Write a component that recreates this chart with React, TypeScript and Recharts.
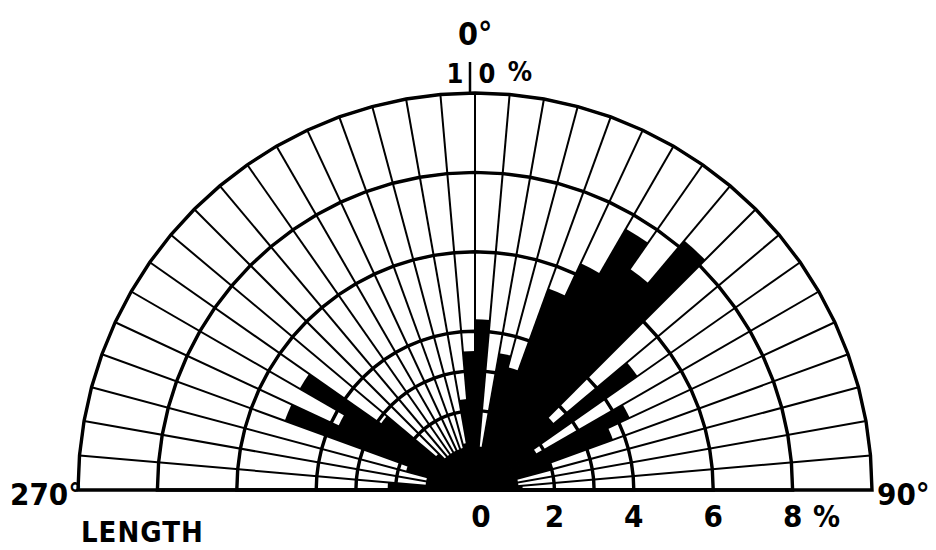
import React from 'react';
import { RadialBarChart, RadialBar, PolarAngleAxis, PolarRadiusAxis, PolarGrid } from 'recharts';

// 5-degree direction classes (compass start angle), from 270 (W) through 0 (N) to 90 (E)
const directions = [
  '270', '275', '280', '285', '290', '295', '300', '305', '310',
  '315', '320', '325', '330', '335', '340', '345', '350', '355',
  '0', '5', '10', '15', '20', '25', '30', '35', '40',
  '45', '50', '55', '60', '65', '70', '75', '80', '85',
];
// percent of total length in each class
const lengthPct = [
  2.2, 1.25, 1.25, 1.8, 5.1, 3.8, 5.1, 2.9, 1.3,
  1.1, 1.1, 1.1, 1.1, 1.1, 1.1, 1.2, 2.3, 3.5,
  4.3, 1.1, 3.5, 3.2, 5.4, 6.3, 7.6, 6.8, 8.2,
  2.6, 5.0, 1.8, 4.3, 3.7, 2.0, 1.1, 1.1, 1.2,
];
const ringTicks = [0, 2, 3, 4, 6, 8, 10];
const scaleLabels = [0, 2, 4, 6, 8];
const spokeAngles = directions.map((_, i) => i * 5).concat([180]);

const data = directions.map((d, i) => ({ dir: d, pct: lengthPct[i] }));

const FONT = '"DejaVu Sans Condensed", "DejaVu Sans", sans-serif';

const RadiusTick = (props: any) => {
  const { x, y, payload } = props;
  const v = payload.value;
  if (!scaleLabels.includes(v)) return null;
  const dx = v === 0 ? 6 : 0;
  return (
    <g>
      <text x={x + dx} y={y + 37} textAnchor="middle" fontFamily={FONT} fontWeight="bold" fontSize={31} fill="#000">
        {String(v)}
      </text>
      {v === 8 ? (
        <text x={x + 34} y={y + 37} textAnchor="middle" fontFamily={FONT} fontWeight="bold" fontSize={30} fill="#000">
          %
        </text>
      ) : null}
    </g>
  );
};

export default function App() {
  return (
    <div style={{ position: 'relative', width: 920, height: 534, background: '#fff' }}>
      <RadialBarChart
        width={920}
        height={534}
        data={data}
        cx={467}
        cy={482}
        innerRadius={0}
        outerRadius={397}
        startAngle={175}
        endAngle={-5}
        layout="centric"
        barCategoryGap={0}
        barGap={0}
        margin={{ top: 0, right: 0, bottom: 0, left: 0 }}
      >
        <PolarAngleAxis type="category" dataKey="dir" tick={false} axisLine={false} tickLine={false} />
        <PolarRadiusAxis
          type="number"
          domain={[0, 10]}
          ticks={ringTicks}
          angle={0}
          axisLine={false}
          tickLine={false}
          tick={RadiusTick}
        />
        <RadialBar dataKey="pct" fill="#000" isAnimationActive={false} />
        <PolarGrid gridType="polygon" polarAngles={spokeAngles} stroke="#000" strokeWidth={2} fill="none" />
        <PolarGrid gridType="polygon" polarAngles={spokeAngles} radialLines={false} stroke="#000" strokeWidth={3.4} fill="none" />
      </RadialBarChart>
      <svg
        width={936}
        height={550}
        style={{ position: 'absolute', left: -8, top: -8, pointerEvents: 'none' }}
      >
        <text x={458} y={45} fontFamily={FONT} fontWeight="bold" fontSize={32} fill="#000">0°</text>
        <text x={455} y={83} textAnchor="middle" fontFamily={FONT} fontWeight="bold" fontSize={27} fill="#000">1</text>
        <line x1={470} y1={62} x2={470} y2={92} stroke="#000" strokeWidth={2.5} />
        <text x={487} y={83} textAnchor="middle" fontFamily={FONT} fontWeight="bold" fontSize={27} fill="#000">0</text>
        <text x={520} y={81} textAnchor="middle" fontFamily={FONT} fontWeight="bold" fontSize={27} fill="#000">%</text>
        <text x={10} y={505} fontFamily={FONT} fontWeight="bold" fontSize={31} fill="#000">270°</text>
        <text x={877} y={505} fontFamily={FONT} fontWeight="bold" fontSize={31} fill="#000">90°</text>
        <text x={81} y={542} fontFamily={FONT} fontWeight="bold" fontSize={29} letterSpacing={1} fill="#000">LENGTH</text>
      </svg>
    </div>
  );
}
